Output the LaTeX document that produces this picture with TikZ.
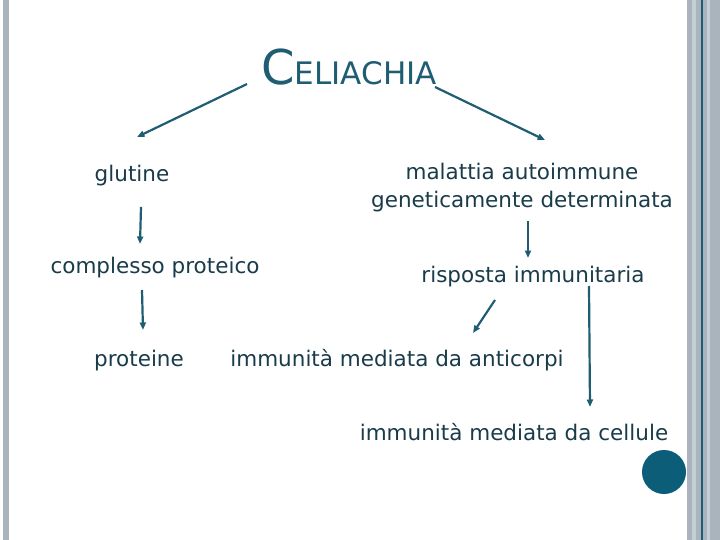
\documentclass[tikz,border=0pt]{standalone}
\usepackage{fontspec}
\setmainfont{DejaVu Sans}
\usetikzlibrary{arrows.meta}
\definecolor{cink}{HTML}{1A3C4A}
\definecolor{cteal}{HTML}{1F5D73}
\definecolor{cdot}{HTML}{0C5D78}
\definecolor{cbar}{HTML}{AAB4BC}
\definecolor{cbarlt}{HTML}{C4CED5}
\tikzset{
  every picture/.style={x=1pt, y=-1pt},
  lab/.style={font=\fontsize{21.5}{28}\selectfont, text=cink, inner sep=0pt, align=center},
  arrow/.style={-{Triangle[length=7.5pt, width=6pt]}, draw=cteal, line width=2.2pt},
}

\begin{document}
\begin{tikzpicture}
  \useasboundingbox[fill=white] (0,0) rectangle (720,540);
  % slide frame
  \fill[cbar] (3,0) rectangle (9,540);
  \fill[cbar] (687,0) rectangle (692,540);
  \fill[cbarlt] (692,0) rectangle (696,540);
  \fill[cbar] (696,0) rectangle (707,540);
  \fill[cbarlt] (707,0) rectangle (710,540);
  \fill[cbar] (710,0) rectangle (720,540);
  \draw[cteal, line width=1.2pt] (702,0) -- (702,540);
  \fill[cdot] (664,472) circle (22);
  % title
  \node[anchor=base, inner sep=0pt, text=cteal] (ttl) at (349,85)
    {\fontsize{48}{48}\selectfont C\fontsize{31}{31}\selectfont ELIACHIA};
  % left branch
  \node[lab, anchor=base] (glu) at (132,182) {glutine};
  \node[lab, anchor=base] (cpx) at (155,273) {complesso proteico};
  \node[lab, anchor=base] (prot) at (139,366) {proteine};
  % right branch
  \node[lab, anchor=north] (mal) at (522,163) {malattia autoimmune\\geneticamente determinata};
  \node[lab, anchor=base] (risp) at (533,282) {risposta immunitaria};
  \node[lab, anchor=base] (antic) at (397,366) {immunità mediata da anticorpi};
  \node[lab, anchor=base] (cell) at (514,440) {immunità mediata da cellule};
  % connectors
  \draw[arrow] ([shift={(-102,-1)}]ttl.base) -- ([shift={(5,-45)}]glu.base);
  \draw[arrow] ([shift={(86,2)}]ttl.base) -- ([shift={(23,-23)}]mal.north);
  \draw[arrow] ([shift={(9,25)}]glu.base) -- ([shift={(-15,-29)}]cpx.base);
  \draw[arrow] ([shift={(-13,17)}]cpx.base) -- ([shift={(4,-36)}]prot.base);
  \draw[arrow] ([shift={(6,9)}]mal.south) -- ([shift={(-5,-24)}]risp.base);
  \draw[arrow] ([shift={(-38,18)}]risp.base) -- ([shift={(76,-33)}]antic.base);
  \draw[arrow] ([shift={(56,4)}]risp.base) -- ([shift={(76,-33)}]cell.base);
\end{tikzpicture}
\end{document}
